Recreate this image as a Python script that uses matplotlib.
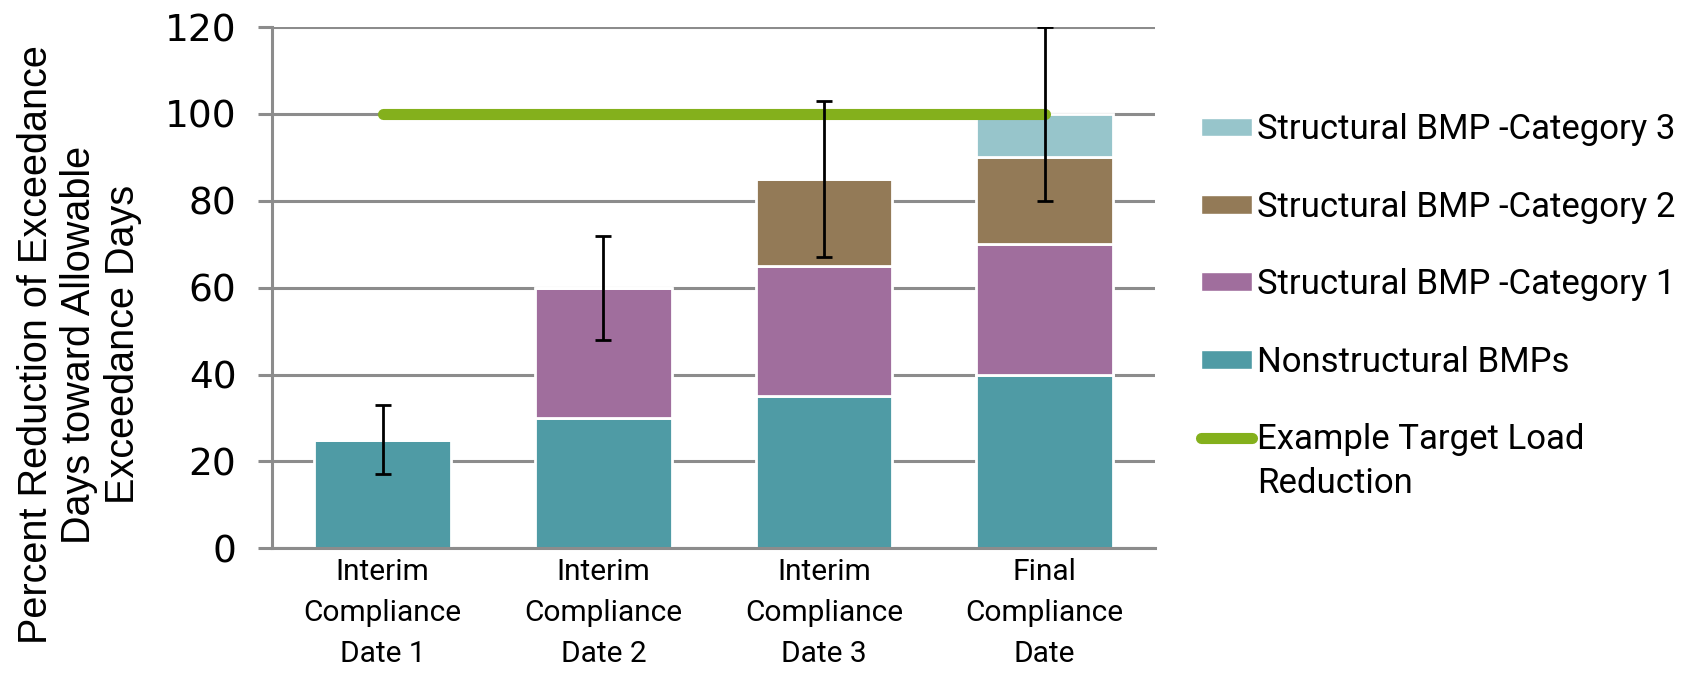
import matplotlib
matplotlib.use("Agg")
import matplotlib.pyplot as plt
from matplotlib.patches import Patch
from matplotlib.lines import Line2D
import numpy as np

# chart data
dates = ["Interim\nCompliance\nDate 1", "Interim\nCompliance\nDate 2",
         "Interim\nCompliance\nDate 3", "Final\nCompliance\nDate"]
nonstructural = [25, 30, 35, 40]
category1 = [0, 30, 30, 30]
category2 = [0, 0, 20, 20]
category3 = [0, 0, 0, 10]
error_size = [8, 12, 18, 20]
target = [100, 100, 100, 100]

series_names = ["Nonstructural BMPs", "Structural BMP -Category 1",
                "Structural BMP -Category 2", "Structural BMP -Category 3"]
series_colors = ["#4f9ba5", "#a06e9d", "#937a57", "#97c5cb"]
green = "#84b01c"
grid_gray = "#8c8c8c"

label_font = ["Roboto", "DejaVu Sans"]
axis_font = ["Liberation Sans", "DejaVu Sans"]

fig = plt.figure(figsize=(16.89, 6.76), dpi=100)
ax = fig.add_axes([0.1613, 0.189, 0.5225, 0.771])

x = np.arange(len(dates))
bottom = np.zeros(len(dates))
handles = []
for vals, name, col in zip([nonstructural, category1, category2, category3],
                           series_names, series_colors):
    ax.bar(x, vals, width=0.62, bottom=bottom, color=col,
           edgecolor="white", linewidth=2, zorder=2)
    bottom = bottom + np.array(vals)
    handles.append(Patch(facecolor=col, edgecolor="white", label=name))

# error bars on top of the stacks
ax.errorbar(x, bottom, yerr=error_size, fmt="none", ecolor="black",
            elinewidth=2, capsize=6, capthick=2, zorder=4)

# target line
ax.plot(x, target, color=green, linewidth=8, solid_capstyle="round", zorder=3)

ax.set_xlim(-0.5, 3.5)
ax.set_ylim(0, 120)
ax.set_yticks(range(0, 121, 20))
ax.yaxis.grid(True, color=grid_gray, linewidth=2.2, zorder=0)
ax.set_axisbelow(True)
for s in ["top", "right"]:
    ax.spines[s].set_visible(False)
ax.spines["left"].set_color(grid_gray)
ax.spines["left"].set_linewidth(2.2)
ax.spines["bottom"].set_color(grid_gray)
ax.spines["bottom"].set_linewidth(2.2)
ax.tick_params(axis="y", length=10, width=2.2, color=grid_gray, pad=16,
               labelsize=27)
ax.tick_params(axis="x", length=0, pad=7)
ax.set_xticks(x)
ax.set_xticklabels(dates, fontfamily=label_font, fontsize=21.5, linespacing=1.6)
for lab in ax.get_yticklabels():
    lab.set_fontfamily("DejaVu Sans")

fig.text(0.047, 0.49,
         "Percent Reduction of Exceedance\nDays toward Allowable\nExceedance Days",
         rotation=90, ha="center", va="center", fontsize=28.5,
         fontfamily=axis_font, linespacing=1.18)

handles = handles[::-1]
handles.append(Line2D([0], [0], color=green, linewidth=8,
                      solid_capstyle="round", label="Example Target Load"))
leg = fig.legend(handles=handles, loc="upper left", bbox_to_anchor=(0.703, 0.853),
                 frameon=False, prop={"family": label_font, "size": 25},
                 handlelength=1.45, handleheight=0.45, handletextpad=0.15,
                 labelspacing=1.28, borderaxespad=0)

# second line of the last legend label, kept under the first line
fig.canvas.draw()
bb = leg.get_texts()[-1].get_window_extent()
W, H = fig.canvas.get_width_height()
fig.text(bb.x0 / W, (bb.y0 - 11) / H, "Reduction", ha="left", va="top",
         fontsize=25, fontfamily=label_font)

fig.savefig("out.png", dpi=100)
